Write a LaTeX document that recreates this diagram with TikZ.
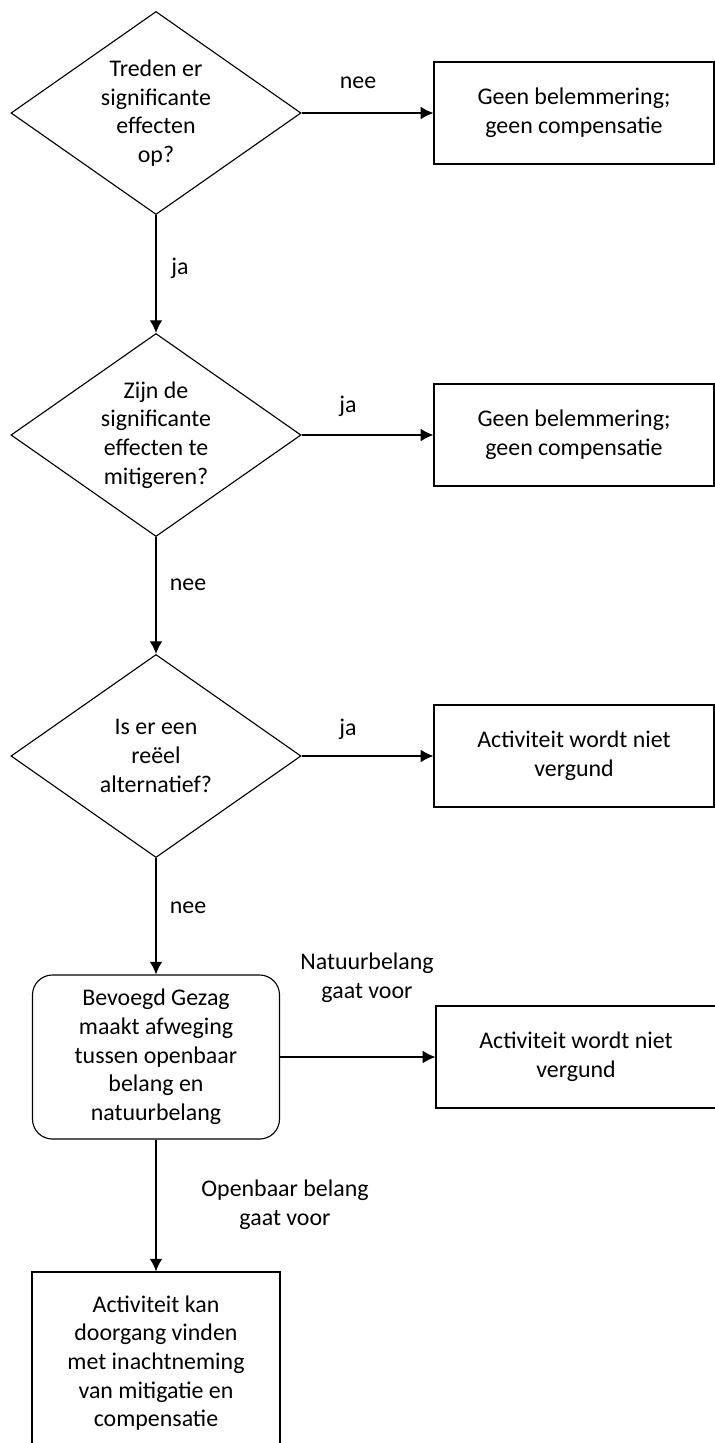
\documentclass[tikz,border=0pt]{standalone}
\usepackage{fontspec}
\setmainfont{Carlito}
\usepackage{tikz}
\usetikzlibrary{shapes.geometric,arrows.meta}

\begin{document}
\begin{tikzpicture}[x=0.025cm,y=-0.025cm,line width=0.8pt,
  every node/.style={font=\fontsize{17}{20.4}\selectfont,align=center},
  question/.style={draw,diamond,aspect=1.43,inner sep=0pt,minimum width=7.25cm,minimum height=5.075cm},
  outcome/.style={draw,rectangle,inner sep=0pt,minimum width=7cm,minimum height=2.55cm},
  weigh/.style={draw,rectangle,rounded corners=0.5cm,inner sep=0pt,minimum width=6.175cm,minimum height=4.1cm}]
\useasboundingbox (0,0) rectangle (715,1443);
\clip (0,0) rectangle (715,1443);
\node[question] (0) at (156,113) {Treden er\\significante\\effecten\\op?};
\node[outcome] (1) at (574,113) {Geen belemmering;\\geen compensatie};
\node[question] (2) at (156,435) {Zijn de\\significante\\effecten te\\mitigeren?};
\node[outcome] (3) at (574,435) {Geen belemmering;\\geen compensatie};
\node[question] (4) at (156,756) {Is er een\\reëel\\alternatief?};
\node[outcome] (5) at (574,756) {Activiteit wordt niet\\vergund};
\node[weigh] (6) at (156,1057) {Bevoegd Gezag\\maakt afweging\\tussen openbaar\\belang en\\natuurbelang};
\node[outcome] (7) at (576,1057) {Activiteit wordt niet\\vergund};
\node[outcome,minimum width=6.2cm,minimum height=4.55cm] (8) at (156,1363) {Activiteit kan\\doorgang vinden\\met inachtneming\\van mitigatie en\\compensatie};
\node (9) at (358,83) {nee};
\node (10) at (180,268) {ja};
\node (11) at (348,406) {ja};
\node (12) at (188,585) {nee};
\node (13) at (348,729) {ja};
\node (14) at (188,908) {nee};
\node (15) at (367,978) {Natuurbelang\\gaat voor};
\node (16) at (285,1205) {Openbaar belang\\gaat voor};
\draw [->,>={Latex[length=9pt,width=9pt]}](0)--(1);
\draw [->,>={Latex[length=9pt,width=9pt]}](0)--(2);
\draw [->,>={Latex[length=9pt,width=9pt]}](2)--(3);
\draw [->,>={Latex[length=9pt,width=9pt]}](2)--(4);
\draw [->,>={Latex[length=9pt,width=9pt]}](4)--(5);
\draw [->,>={Latex[length=9pt,width=9pt]}](4)--(6);
\draw [->,>={Latex[length=9pt,width=9pt]}](6)--(7);
\draw [->,>={Latex[length=9pt,width=9pt]}](6)--(8);
\end{tikzpicture}
\end{document}
